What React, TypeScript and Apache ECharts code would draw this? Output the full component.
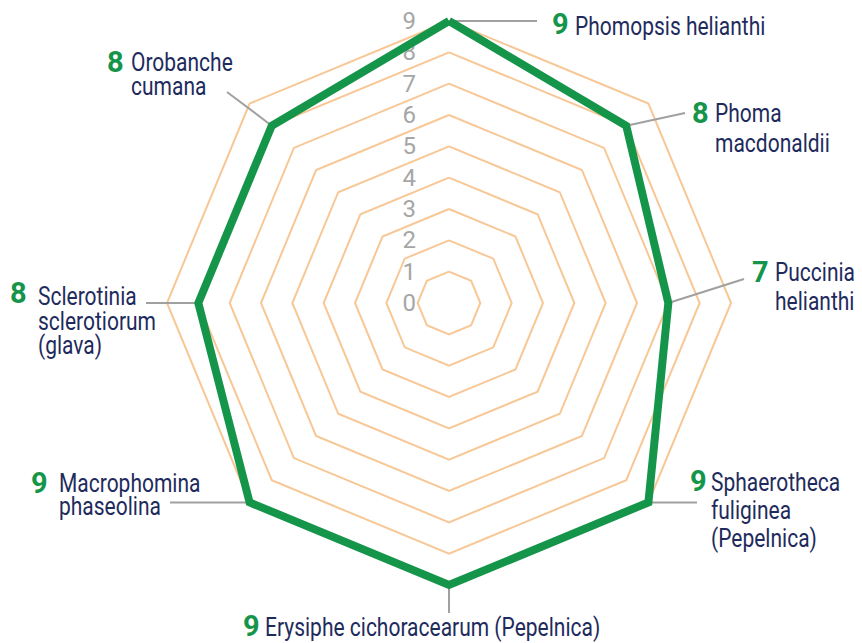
import React, { useEffect, useRef } from 'react';
import * as echarts from 'echarts';

// Indicators in counter-clockwise order starting from the top
const diseases = [
  'Phomopsis helianthi',
  'Orobanche cumana',
  'Sclerotinia sclerotiorum (glava)',
  'Macrophomina phaseolina',
  'Erysiphe cichoracearum (Pepelnica)',
  'Sphaerotheca fuliginea (Pepelnica)',
  'Puccinia helianthi',
  'Phoma macdonaldii',
];
const ratings = [9, 8, 8, 9, 9, 9, 7, 8];
const ratingMin = 0;
const ratingMax = 9;
const ratingSteps = 9;

// Line breaks used for the outer labels
const nameLines = [
  ['Phomopsis helianthi'],
  ['Orobanche', 'cumana'],
  ['Sclerotinia', 'sclerotiorum', '(glava)'],
  ['Macrophomina', 'phaseolina'],
  ['Erysiphe cichoracearum (Pepelnica)'],
  ['Sphaerotheca', 'fuliginea', '(Pepelnica)'],
  ['Puccinia', 'helianthi'],
  ['Phoma', 'macdonaldii'],
];

const CX = 449;
const CY = 303;
const RADIUS = 282;

const GREEN = '#15954a';
const NAVY = '#1e2b5c';
const ORANGE = '#f8c796';
const GREY_LINE = '#a0a0a0';
const GREY_TEXT = '#a6a6a6';
const FONT = 'Roboto, "Noto Sans", sans-serif';

// Label placement (annotation layout)
const layout = [
  { numX: 552, numY: 24, nameX: 575, nameY: 27, lh: 30, end: [537, null] },
  { numX: 107, numY: 62, nameX: 131, nameY: 63, lh: 23.5, end: [227, 92] },
  { numX: 10, numY: 293, nameX: 38, nameY: 297, lh: 24.5, end: [146, null] },
  { numX: 31, numY: 483, nameX: 59, nameY: 484, lh: 23, end: [170, null] },
  { numX: 243, numY: 626, nameX: 265, nameY: 627.5, lh: 30, end: [null, 613] },
  { numX: 690, numY: 481, nameX: 711, nameY: 483, lh: 28, end: [697, null] },
  { numX: 752, numY: 272, nameX: 775, nameY: 273, lh: 29, end: [744, 279] },
  { numX: 692, numY: 112.5, nameX: 715, nameY: 114, lh: 29.5, end: [685, 113] },
];

function vertex(i: number) {
  const a = ((90 + (i * 360) / diseases.length) * Math.PI) / 180;
  const r = (RADIUS * (ratings[i] - ratingMin)) / (ratingMax - ratingMin);
  return [CX + Math.cos(a) * r, CY - Math.sin(a) * r];
}

function buildGraphics() {
  const els: any[] = [];
  diseases.forEach((_, i) => {
    const L = layout[i];
    const [vx, vy] = vertex(i);
    const ex = L.end[0] == null ? vx : (L.end[0] as number);
    const ey = L.end[1] == null ? vy : (L.end[1] as number);
    els.push({
      type: 'line',
      z: 1,
      silent: true,
      shape: { x1: vx, y1: vy, x2: ex, y2: ey },
      style: { stroke: GREY_LINE, lineWidth: 2 },
    });
    els.push({
      type: 'text',
      z: 3,
      x: L.numX,
      y: L.numY,
      silent: true,
      style: {
        text: String(ratings[i]),
        fill: GREEN,
        font: `bold 29px ${FONT}`,
        fontFamily: FONT,
        fontWeight: 'bold',
        fontSize: 29,
        align: 'left',
        verticalAlign: 'middle',
      },
    });
    els.push({
      type: 'text',
      z: 3,
      x: L.nameX,
      y: L.nameY - L.lh / 2,
      scaleX: 0.84,
      silent: true,
      style: {
        text: nameLines[i].join('\n'),
        fill: NAVY,
        fontFamily: FONT,
        fontSize: 25,
        lineHeight: L.lh,
        align: 'left',
        verticalAlign: 'top',
      },
    });
  });
  return els;
}

export default function App() {
  const ref = useRef<HTMLDivElement>(null);
  useEffect(() => {
    if (!ref.current) return;
    const chart = echarts.init(ref.current, null, { renderer: 'svg' });
    chart.setOption({
      animation: false,
      backgroundColor: '#ffffff',
      radar: {
        center: [CX, CY],
        radius: RADIUS,
        startAngle: 90,
        shape: 'polygon',
        splitNumber: ratingSteps,
        indicator: diseases.map((name, i) =>
          i === 0
            ? { name, min: ratingMin, max: ratingMax, axisLabel: { show: true } }
            : { name, min: ratingMin, max: ratingMax }
        ),
        axisName: { show: false },
        axisLine: { show: false },
        axisTick: { show: false },
        axisLabel: {
          show: false,
          color: GREY_TEXT,
          fontSize: 24,
          fontFamily: FONT,
          margin: 33,
        },
        splitLine: { lineStyle: { color: ORANGE, width: 2 } },
        splitArea: { show: false },
      },
      series: [
        {
          type: 'radar',
          silent: true,
          symbol: 'none',
          z: 2,
          lineStyle: { color: GREEN, width: 8, join: 'miter', miterLimit: 10 },
          itemStyle: { color: GREEN },
          data: [{ value: ratings, name: 'Ocena' }],
        },
      ],
      graphic: buildGraphics(),
    });
    return () => chart.dispose();
  }, []);
  return (
    <div
      ref={ref}
      style={{ position: 'absolute', left: 0, top: 0, width: 862, height: 643, background: '#fff' }}
    />
  );
}
